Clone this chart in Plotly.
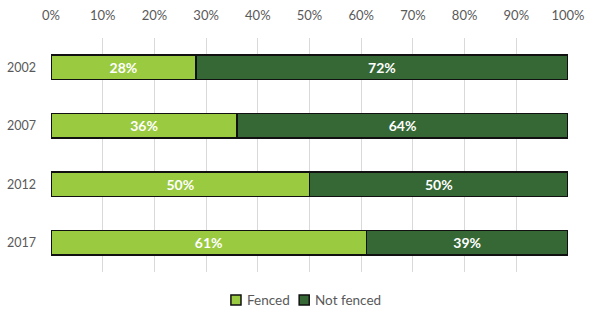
import plotly.graph_objects as go

years = ["2002", "2007", "2012", "2017"]
fenced = [28, 36, 50, 61]
not_fenced = [72, 64, 50, 39]
tick_vals = [0, 10, 20, 30, 40, 50, 60, 70, 80, 90, 100]
tick_text = [f"{v}%" for v in tick_vals]

FONT = "Lato, Noto Sans, sans-serif"
GREY = "#595959"
series = [("Fenced", fenced, "#9ACA3F"), ("Not fenced", not_fenced, "#356835")]

fig = go.Figure()
for name, vals, color in series:
    fig.add_trace(go.Bar(
        y=years, x=vals, name=name, orientation="h",
        marker=dict(color=color, line=dict(color="#111111", width=1.6)),
        text=[f"{v}%" for v in vals], textposition="inside", insidetextanchor="middle",
        textfont=dict(color="white", size=14, family=FONT, weight="bold"),
    ))

# Compact legend below the plot: small outlined swatches with labels close by
legend_x = [0.348, 0.480]
for (name, _, color), lx in zip(series, legend_x):
    fig.add_shape(type="rect", xref="paper", yref="paper",
                  x0=lx, x1=lx + 0.0195, y0=-0.141, y1=-0.098,
                  fillcolor=color, line=dict(color="#111111", width=1.5))
    fig.add_annotation(xref="paper", yref="paper", x=lx + 0.027, y=-0.118,
                       text=name, showarrow=False, xanchor="left", yanchor="middle",
                       font=dict(size=13.5, color=GREY, family=FONT))

fig.update_layout(
    width=600, height=325,
    barmode="stack", bargap=0.58,
    margin=dict(l=51, r=32, t=38, b=53, autoexpand=False),
    paper_bgcolor="white", plot_bgcolor="white",
    font=dict(family=FONT, size=13, color=GREY),
    showlegend=False,
    uniformtext=dict(mode="show", minsize=10),
)
fig.update_xaxes(
    side="top", range=[0, 100], tickvals=tick_vals, ticktext=tick_text,
    showgrid=True, gridcolor="#D9D9D9", gridwidth=1,
    zeroline=False, showline=False, ticks="", ticklabelstandoff=14,
    tickfont=dict(size=13),
)
fig.update_yaxes(
    categoryorder="array", categoryarray=years, autorange="reversed",
    showgrid=False, zeroline=False, ticks="", ticklabelstandoff=14,
    tickfont=dict(size=12.5),
)

fig.write_html("out.html")
